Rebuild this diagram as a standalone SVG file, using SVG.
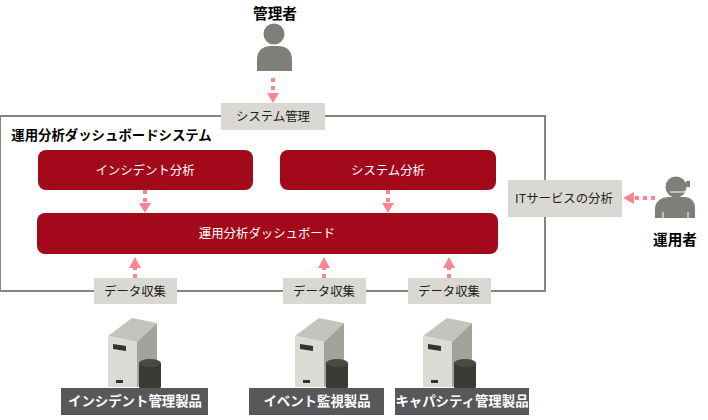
<svg xmlns="http://www.w3.org/2000/svg" width="708" height="420" viewBox="0 0 708 420">
<style>
text{font-family:"Noto Sans CJK JP","Noto Sans",sans-serif;text-anchor:middle}
.lb{font-size:12.4px;fill:#222}
.lg{fill:#d9d8d3}
.red{fill:#a20a1c}
.wt{font-size:12.4px;fill:#fff}
.bd{font-size:14.6px;font-weight:700;fill:#000}
.tt{font-size:13.4px;font-weight:700;fill:#000}
.pr{font-size:13.4px;font-weight:700;fill:#fff}
.dk{fill:#58585a}
.ln{stroke:#fb8593;stroke-width:4;stroke-dasharray:4 4;fill:none}
.hd{fill:#fb8593}
.p{fill:#7f7e78}
</style>
<defs>
<g id="srv">
<polygon points="0,18 24,0 49,5 29,24" fill="#c4c4bf"/>
<polygon points="0,18 29,24 29,69 0,69" fill="#dcdbd6"/>
<polygon points="29,24 49,5 49,62 29,69" fill="#a3a29c"/>
<polygon points="5,26 18,28 18,33 5,31" fill="#333"/>
<rect x="8" y="62" width="7" height="3" fill="#333"/>
<rect x="31" y="45" width="22" height="24" fill="#3a3a36"/>
<ellipse cx="42" cy="69" rx="11" ry="3" fill="#3a3a36"/>
<ellipse cx="42" cy="45" rx="11" ry="4" fill="#4a4a45"/>
</g>
</defs>
<rect x="0" y="116" width="545" height="175" fill="#fff" stroke="#85857f" stroke-width="2"/>
<g id="connectors">
<path class="ln" d="M273 78V94"/><polygon class="hd" points="267,93 279,93 273,103"/>
<path class="ln" d="M145 190V204"/><polygon class="hd" points="139,203 151,203 145,213"/>
<path class="ln" d="M388 190V204"/><polygon class="hd" points="382,203 394,203 388,213"/>
<path class="ln" d="M135 278V268"/><polygon class="hd" points="129,268 141,268 135,257"/>
<path class="ln" d="M324 278V268"/><polygon class="hd" points="318,268 330,268 324,257"/>
<path class="ln" d="M449 278V268"/><polygon class="hd" points="443,268 455,268 449,257"/>
<path class="ln" d="M655 198H632"/><polygon class="hd" points="634,192 634,204 623,198"/>
</g>
<g id="admin"><text class="bd" x="275" y="19">管理者</text>
<circle class="p" cx="274" cy="34" r="10.500"/><path class="p" d="M257 71V60Q257 47 270 46H279Q292 47 292 60V71Z"/></g>
<g id="sysmgmt"><rect class="lg" x="221" y="103" width="104" height="27"/><text class="lb" x="273" y="121">システム管理</text></g>
<g id="title"><text class="tt" x="111.500" y="140">運用分析ダッシュボードシステム</text></g>
<g id="incident"><rect class="red" x="38" y="150" width="215" height="40" rx="8"/><text class="wt" x="145" y="175">インシデント分析</text></g>
<g id="sysanalysis"><rect class="red" x="280" y="150" width="216" height="40" rx="8"/><text class="wt" x="388" y="175">システム分析</text></g>
<g id="dashboard"><rect class="red" x="37" y="213" width="461" height="41" rx="8"/><text class="wt" x="267" y="238">運用分析ダッシュボード</text></g>
<g id="it"><rect class="lg" x="508" y="180" width="114" height="37"/><text class="lb" x="564" y="203">ITサービスの分析</text></g>
<g id="operator"><circle class="p" cx="676" cy="187" r="10.500"/><path class="p" d="M655 218V208Q656 198 668 197H685Q695 198 695 208V218Z"/>
<path d="M663 212V218M688 212V218" stroke="#fff" stroke-width="1"/>
<path d="M670 192H684Q688 191 689 186" fill="none" stroke="#fff" stroke-width="1"/>
<rect class="p" x="686" y="181" width="4" height="6"/><text class="bd" x="675" y="245">運用者</text></g>
<g id="d1"><rect class="lg" x="94" y="278" width="83" height="26"/><text class="lb" x="135" y="296">データ収集</text></g>
<g id="d2"><rect class="lg" x="283" y="278" width="83" height="26"/><text class="lb" x="324" y="296">データ収集</text></g>
<g id="d3"><rect class="lg" x="408" y="278" width="83" height="26"/><text class="lb" x="449" y="296">データ収集</text></g>
<g id="p1"><use href="#srv" x="108" y="318"/><rect class="dk" x="61" y="388" width="147" height="27"/><text class="pr" x="135" y="406">インシデント管理製品</text></g>
<g id="p2"><use href="#srv" x="295" y="318"/><rect class="dk" x="249" y="388" width="135" height="27"/><text class="pr" x="317" y="406">イベント監視製品</text></g>
<g id="p3"><use href="#srv" x="423" y="318"/><rect class="dk" x="395" y="388" width="134" height="27"/><text class="pr" x="462" y="406">キャパシティ管理製品</text></g>
</svg>
